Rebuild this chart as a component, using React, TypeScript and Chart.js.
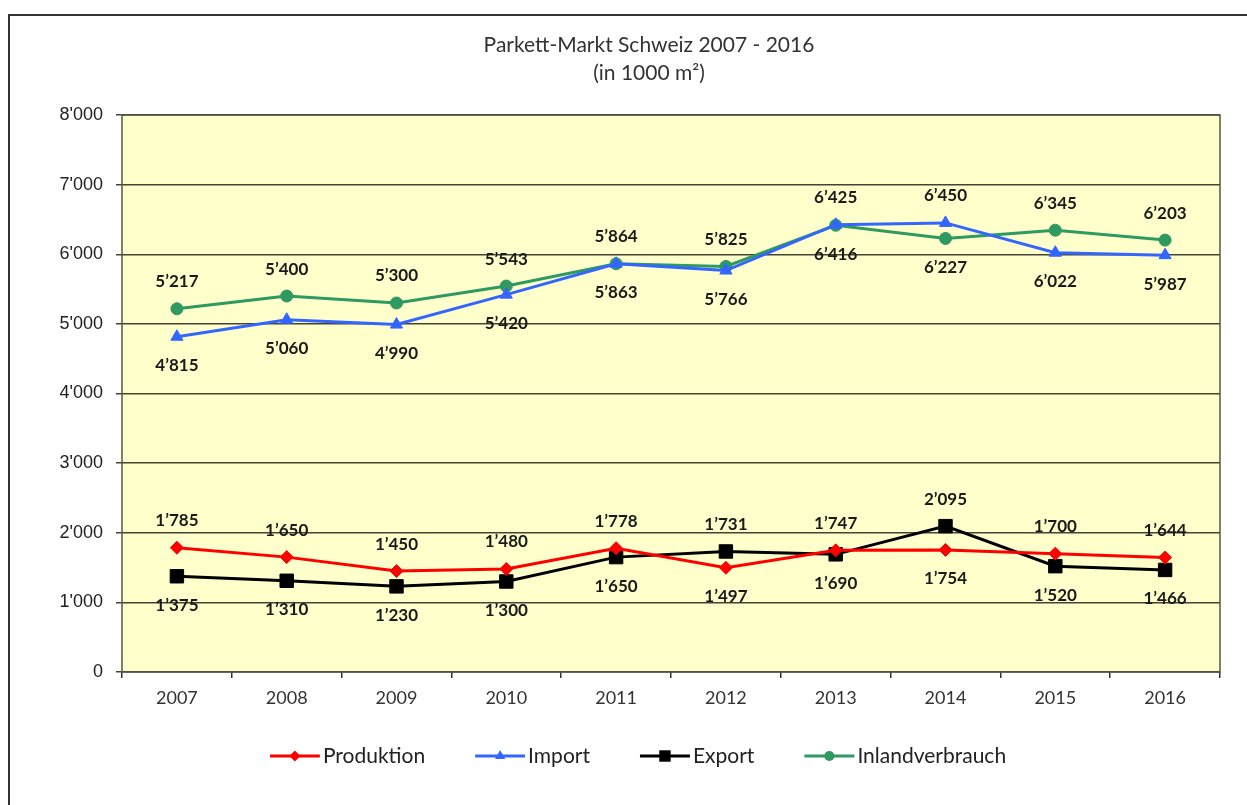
import React, { useEffect, useRef } from "react";
import { Chart, registerables } from "chart.js";

Chart.register(...registerables);

const years = ["2007", "2008", "2009", "2010", "2011", "2012", "2013", "2014", "2015", "2016"];
const produktion = [1785, 1650, 1450, 1480, 1778, 1497, 1747, 1754, 1700, 1644];
const importWerte = [4815, 5060, 4990, 5420, 5863, 5766, 6425, 6450, 6022, 5987];
const exportWerte = [1375, 1310, 1230, 1300, 1650, 1731, 1690, 2095, 1520, 1466];
const inlandverbrauch = [5217, 5400, 5300, 5543, 5864, 5825, 6416, 6227, 6345, 6203];
const titleLines = ["Parkett-Markt Schweiz 2007 - 2016", "(in 1000 m\u00B2)"];
const seriesNames = ["Produktion", "Import", "Export", "Inlandverbrauch"];
const seriesColors = ["#ff0000", "#3366ff", "#000000", "#2e9960"];
const seriesMarkers = ["rectRot", "triangle", "rect", "circle"];
const markerRadius = [6.5, 7, 9.5, 6];
// partner series used to decide whether a label sits above or below
const partnerIndex = [2, 3, 0, 1];

const W = 1247;
const H = 805;

function fmt(v: number, sep: string) {
  if (v < 1000) return String(v);
  const th = Math.floor(v / 1000);
  const rest = String(v % 1000).padStart(3, "0");
  return th + sep + rest;
}

function drawMarker(ctx: CanvasRenderingContext2D, style: string, x: number, y: number, r: number, color: string) {
  ctx.save();
  ctx.fillStyle = color;
  ctx.strokeStyle = color;
  ctx.beginPath();
  if (style === "circle") {
    ctx.arc(x, y, r, 0, Math.PI * 2);
  } else if (style === "rect") {
    const s = r * Math.SQRT1_2;
    ctx.rect(x - s, y - s, 2 * s, 2 * s);
  } else if (style === "rectRot") {
    ctx.moveTo(x, y - r);
    ctx.lineTo(x + r, y);
    ctx.lineTo(x, y + r);
    ctx.lineTo(x - r, y);
    ctx.closePath();
  } else if (style === "triangle") {
    ctx.moveTo(x, y - r);
    ctx.lineTo(x + r * 0.866, y + r * 0.5);
    ctx.lineTo(x - r * 0.866, y + r * 0.5);
    ctx.closePath();
  }
  ctx.fill();
  ctx.restore();
}

const decorPlugin = {
  id: "decor",
  beforeDraw(chart: any) {
    const { ctx, chartArea } = chart;
    ctx.save();
    ctx.fillStyle = "#ffffff";
    ctx.fillRect(0, 0, chart.width, chart.height);
    ctx.fillStyle = "#ffffcc";
    ctx.fillRect(chartArea.left, chartArea.top, chartArea.right - chartArea.left, chartArea.bottom - chartArea.top);
    ctx.restore();
  },
  beforeDatasetsDraw(chart: any) {
    const { ctx, chartArea } = chart;
    ctx.save();
    ctx.strokeStyle = "#555544";
    ctx.lineWidth = 1.5;
    ctx.strokeRect(chartArea.left, chartArea.top, chartArea.right - chartArea.left, chartArea.bottom - chartArea.top);
    ctx.restore();
  },
  afterDatasetsDraw(chart: any) {
    const { ctx } = chart;
    ctx.save();
    ctx.font = "bold 17px Lato, 'Liberation Sans', sans-serif";
    ctx.fillStyle = "#1a1a1a";
    ctx.textAlign = "center";
    ctx.textBaseline = "middle";
    chart.data.datasets.forEach((ds: any, i: number) => {
      const meta = chart.getDatasetMeta(i);
      const partner = chart.data.datasets[partnerIndex[i]].data;
      meta.data.forEach((pt: any, j: number) => {
        const v = ds.data[j];
        const above = v >= partner[j];
        const y = pt.y + (above ? -27 : 29);
        ctx.fillText(fmt(v, "\u2019"), pt.x, y);
      });
    });
    ctx.restore();
  },
  afterDraw(chart: any) {
    const { ctx } = chart;
    ctx.save();
    // title
    ctx.fillStyle = "#333333";
    ctx.font = "21px Lato, 'Liberation Sans', sans-serif";
    ctx.textAlign = "center";
    ctx.textBaseline = "middle";
    ctx.fillText(titleLines[0], 649, 45);
    ctx.fillText(titleLines[1], 649, 73);
    // legend
    ctx.font = "21px Lato, 'Liberation Sans', sans-serif";
    const lineLen = 50;
    const textGap = 3;
    const itemGap = 50;
    const widths = seriesNames.map((n) => lineLen + textGap + ctx.measureText(n).width);
    const total = widths.reduce((a, b) => a + b, 0) + itemGap * (seriesNames.length - 1);
    let x = 638 - total / 2;
    const y = 756;
    seriesNames.forEach((name, i) => {
      ctx.strokeStyle = seriesColors[i];
      ctx.lineWidth = 3;
      ctx.beginPath();
      ctx.moveTo(x, y);
      ctx.lineTo(x + lineLen, y);
      ctx.stroke();
      drawMarker(ctx, seriesMarkers[i], x + lineLen / 2, y, markerRadius[i] * 0.85, seriesColors[i]);
      ctx.fillStyle = "#222222";
      ctx.textAlign = "left";
      ctx.fillText(name, x + lineLen + textGap, y);
      x += widths[i] + itemGap;
    });
    ctx.restore();
  },
};

export default function App() {
  const canvasRef = useRef<HTMLCanvasElement | null>(null);

  useEffect(() => {
    const canvas = canvasRef.current;
    if (!canvas) return;
    const seriesData = [produktion, importWerte, exportWerte, inlandverbrauch];
    const chart = new Chart(canvas, {
      type: "line",
      data: {
        labels: years,
        datasets: seriesData.map((d, i) => ({
          label: seriesNames[i],
          data: d,
          borderColor: seriesColors[i],
          backgroundColor: seriesColors[i],
          borderWidth: 3,
          pointStyle: seriesMarkers[i] as any,
          pointRadius: markerRadius[i],
          pointBorderWidth: 1,
          pointBackgroundColor: seriesColors[i],
          pointBorderColor: seriesColors[i],
          tension: 0,
          fill: false,
        })),
      },
      options: {
        responsive: false,
        animation: false,
        layout: { padding: { left: 0, right: 27, top: 115, bottom: 93 } },
        plugins: {
          legend: { display: false },
          title: { display: false },
          tooltip: { enabled: false },
        },
        scales: {
          x: {
            offset: true,
            afterFit: (scale: any) => {
              scale.height = 40;
            },
            grid: {
              offset: true,
              drawOnChartArea: false,
              drawTicks: true,
              tickLength: 6,
              color: "#333333",
              lineWidth: 1.5,
            },
            border: { display: false },
            ticks: {
              padding: 9,
              color: "#333333",
              font: { family: "Lato, 'Liberation Sans', sans-serif", size: 18 },
            },
          },
          y: {
            min: 0,
            max: 8000,
            afterFit: (scale: any) => {
              scale.width = 122;
            },
            grid: {
              color: "#444433",
              lineWidth: 1.5,
              drawTicks: true,
              tickLength: 6,
            },
            border: { display: false },
            ticks: {
              stepSize: 1000,
              padding: 13,
              color: "#222222",
              font: { family: "'Liberation Sans', Arial, sans-serif", size: 18 },
              callback: (v: any) => fmt(Number(v), "'"),
            },
          },
        },
      },
      plugins: [decorPlugin],
    });
    return () => chart.destroy();
  }, []);

  return (
    <div style={{ position: "fixed", left: 0, top: 0, width: W, height: H, overflow: "hidden", background: "#fff" }}>
      <canvas ref={canvasRef} width={W} height={H} style={{ position: "absolute", left: 0, top: 0, width: W, height: H }} />
      <div
        style={{
          position: "absolute",
          left: 8,
          top: 14,
          width: W + 50,
          height: H + 50,
          borderLeft: "2px solid #333",
          borderTop: "2px solid #333",
          pointerEvents: "none",
        }}
      />
    </div>
  );
}
